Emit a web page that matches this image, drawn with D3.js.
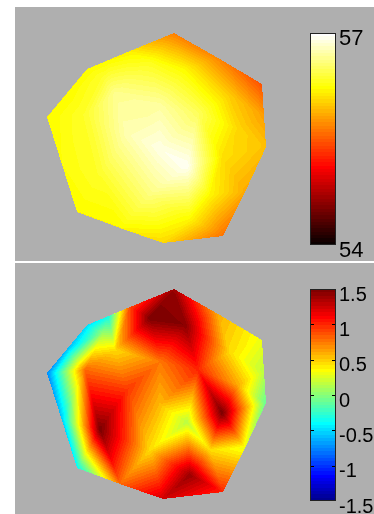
<!DOCTYPE html>
<html>
<head>
<meta charset="utf-8">
<script src="https://cdn.jsdelivr.net/npm/d3@7"></script>
<style>
  html, body { margin: 0; padding: 0; background: #fff; }
  #chart { position: relative; width: 374px; height: 514px; overflow: hidden; }
  #chart canvas, #chart svg { position: absolute; left: 0; top: 0; }
  .cb-label { font-family: "Liberation Sans", Arial, sans-serif; fill: #000; }
</style>
</head>
<body>
<div id="chart"></div>
<script>
/* ──────────────────────────────────────────────
   Two interpolated-shaded mesh plots (trisurf style)
   top: temperature 54–57 (hot), bottom: field -1.5–1.5 (jet)
   ────────────────────────────────────────────── */

// mesh nodes, mesh units (x right, y up); first 15 + last one on the boundary
const nodeX = [127, 171, 215, 217, 219, 198, 176, 116, 73, 30, 15, 0, 20, 40, 83,
               103, 138, 151, 175, 191, 140, 53, 38, 68, 80, 113, 143, 103, 163, 113, 183, 56, 61];
const nodeY = [210, 185, 159, 127, 96, 51, 7, 0, 15, 31, 79, 126, 150, 174, 192,
               181, 174, 129, 86, 114, 77, 69, 129, 149, 109, 137, 24, 49, 49, 94, 147, 166, 182.7];

// nodal values, top panel
const tempValues = [55.65, 55.7, 55.45, 55.8, 55.95, 55.85, 55.6, 56.05, 56.2, 56.2, 56.25, 56.2, 56.2, 56.2, 56.15,
                    56.3, 56.2, 56.5, 56.1, 56.05, 56.95, 56.35, 56.35, 56.65, 56.75, 56.7, 56.2, 56.6, 56.2, 56.9, 56.0, 56.35, 56.2];
// nodal values, bottom panel
const fieldValues = [1.4, 0.6, 0.3, 0.15, -0.1, 0.3, 1.0, 1.25, 0.8, -0.4, -0.55, -0.75, -0.6, -0.5, 0.9,
                     1.5, 1.45, 1.0, 1.5, 0.6, 0.15, 1.5, 0.8, 0.45, 0.95, 0.75, 1.4, 0.45, 0.45, 0.55, 0.45, 0.05, -0.35];

const tempTicks = [54, 57];
const fieldTicks = [-1.5, -1, -0.5, 0, 0.5, 1, 1.5];

const W = 374, H = 514;
const BG = '#afafaf';
const NC = 64;

// MATLAB-style colormaps
function hotMap(m) {
  const n = Math.floor(3 / 8 * m);
  return d3.range(m).map(i => {
    const k = i + 1;
    const r = Math.min(k / n, 1);
    const g = Math.max(0, Math.min((k - n) / n, 1));
    const b = Math.max(0, (k - 2 * n) / (m - 2 * n));
    return [r, g, b].map(v => Math.round(v * 255));
  });
}

function jetMap(m) {
  const n = Math.ceil(m / 4);
  const u = [];
  for (let i = 1; i <= n; i++) u.push(i / n);
  for (let i = 0; i < n - 1; i++) u.push(1);
  for (let i = n; i >= 1; i--) u.push(i / n);
  const g0 = Math.ceil(n / 2) - (m % 4 === 1 ? 1 : 0);
  const J = d3.range(m).map(() => [0, 0, 0]);
  u.forEach((val, k) => {
    const g = g0 + k + 1, r = g + n, b = g - n;
    if (r >= 1 && r <= m) J[r - 1][0] = val;
    if (g >= 1 && g <= m) J[g - 1][1] = val;
    if (b >= 1 && b <= m) J[b - 1][2] = val;
  });
  return J.map(c => c.map(v => Math.round(v * 255)));
}

const panels = [
  { top: 7, bottom: 261, yRange: [243, 33], values: tempValues, domain: [54, 57],
    cmap: hotMap(NC), ticks: tempTicks, fontSize: 22, cb: [245, 33], innerTicks: false },
  { top: 263, bottom: 514, yRange: [499, 289], values: fieldValues, domain: [-1.5, 1.5],
    cmap: jetMap(NC), ticks: fieldTicks, fontSize: 20, cb: [501, 289], innerTicks: true }
];

const xScale = d3.scaleLinear().domain([0, 220]).range([47, 267]);
const delaunay = d3.Delaunay.from(nodeX.map((x, i) => [x, nodeY[i]]));
const tris = delaunay.triangles;

const chart = d3.select('#chart');
const canvas = chart.append('canvas').attr('width', W).attr('height', H).node();
const ctx = canvas.getContext('2d');
ctx.fillStyle = '#fff';
ctx.fillRect(0, 0, W, H);
panels.forEach(p => {
  ctx.fillStyle = BG;
  ctx.fillRect(15, p.top, W - 15, p.bottom - p.top);
});

const img = ctx.getImageData(0, 0, W, H);
const px = img.data;

// rasterise each triangle, interpolating the nodal value, then colour-index it
panels.forEach(p => {
  const yScale = d3.scaleLinear().domain([0, 210]).range(p.yRange);
  const color = d3.scaleQuantize().domain(p.domain).range(p.cmap);
  const sx = nodeX.map(v => xScale(v));
  const sy = nodeY.map(v => yScale(v));

  for (let t = 0; t < tris.length; t += 3) {
    const a = tris[t], b = tris[t + 1], c = tris[t + 2];
    const x0 = sx[a], y0 = sy[a], x1 = sx[b], y1 = sy[b], x2 = sx[c], y2 = sy[c];
    const det = (y1 - y2) * (x0 - x2) + (x2 - x1) * (y0 - y2);
    if (Math.abs(det) < 1e-9) continue;
    const minX = Math.max(0, Math.floor(Math.min(x0, x1, x2)));
    const maxX = Math.min(W - 1, Math.ceil(Math.max(x0, x1, x2)));
    const minY = Math.max(0, Math.floor(Math.min(y0, y1, y2)));
    const maxY = Math.min(H - 1, Math.ceil(Math.max(y0, y1, y2)));
    for (let y = minY; y <= maxY; y++) {
      for (let x = minX; x <= maxX; x++) {
        const cx = x + 0.5, cy = y + 0.5;
        const w0 = ((y1 - y2) * (cx - x2) + (x2 - x1) * (cy - y2)) / det;
        const w1 = ((y2 - y0) * (cx - x2) + (x0 - x2) * (cy - y2)) / det;
        const w2 = 1 - w0 - w1;
        if (w0 < -1e-6 || w1 < -1e-6 || w2 < -1e-6) continue;
        const v = w0 * p.values[a] + w1 * p.values[b] + w2 * p.values[c];
        const rgb = color(v);
        const k = (y * W + x) * 4;
        px[k] = rgb[0]; px[k + 1] = rgb[1]; px[k + 2] = rgb[2]; px[k + 3] = 255;
      }
    }
  }
});
ctx.putImageData(img, 0, 0);

// colorbars
const svg = chart.append('svg').attr('width', W).attr('height', H);
const CB_X = 310, CB_W = 26;

panels.forEach(p => {
  const cbY = d3.scaleLinear().domain(p.domain).range(p.cb);
  const step = (p.domain[1] - p.domain[0]) / NC;
  const g = svg.append('g');

  g.selectAll('rect.band')
    .data(p.cmap)
    .join('rect')
    .attr('class', 'band')
    .attr('x', CB_X)
    .attr('width', CB_W)
    .attr('y', (d, i) => cbY(p.domain[0] + (i + 1) * step))
    .attr('height', (d, i) => cbY(p.domain[0] + i * step) - cbY(p.domain[0] + (i + 1) * step))
    .attr('fill', d => `rgb(${d[0]},${d[1]},${d[2]})`)
    .attr('shape-rendering', 'crispEdges');

  if (p.innerTicks) {
    const inner = p.ticks.slice(1, -1);
    g.selectAll('line.tr').data(inner).join('line')
      .attr('class', 'tr')
      .attr('x1', CB_X + CB_W - 4).attr('x2', CB_X + CB_W)
      .attr('y1', d => Math.round(cbY(d)) + 0.5).attr('y2', d => Math.round(cbY(d)) + 0.5)
      .attr('stroke', '#000');
    g.selectAll('line.tl').data(inner).join('line')
      .attr('class', 'tl')
      .attr('x1', CB_X).attr('x2', CB_X + 4)
      .attr('y1', d => Math.round(cbY(d)) + 0.5).attr('y2', d => Math.round(cbY(d)) + 0.5)
      .attr('stroke', '#000');
  }

  g.append('rect')
    .attr('x', CB_X + 0.5).attr('y', p.cb[1] + 0.5)
    .attr('width', CB_W - 1).attr('height', p.cb[0] - p.cb[1] - 1)
    .attr('fill', 'none').attr('stroke', '#222');

  g.selectAll('text').data(p.ticks).join('text')
    .attr('class', 'cb-label')
    .attr('x', CB_X + CB_W + 3)
    .attr('y', d => cbY(d) + 11.5)
    .attr('font-size', p.fontSize)
    .text(d => d);
});
</script>
</body>
</html>
